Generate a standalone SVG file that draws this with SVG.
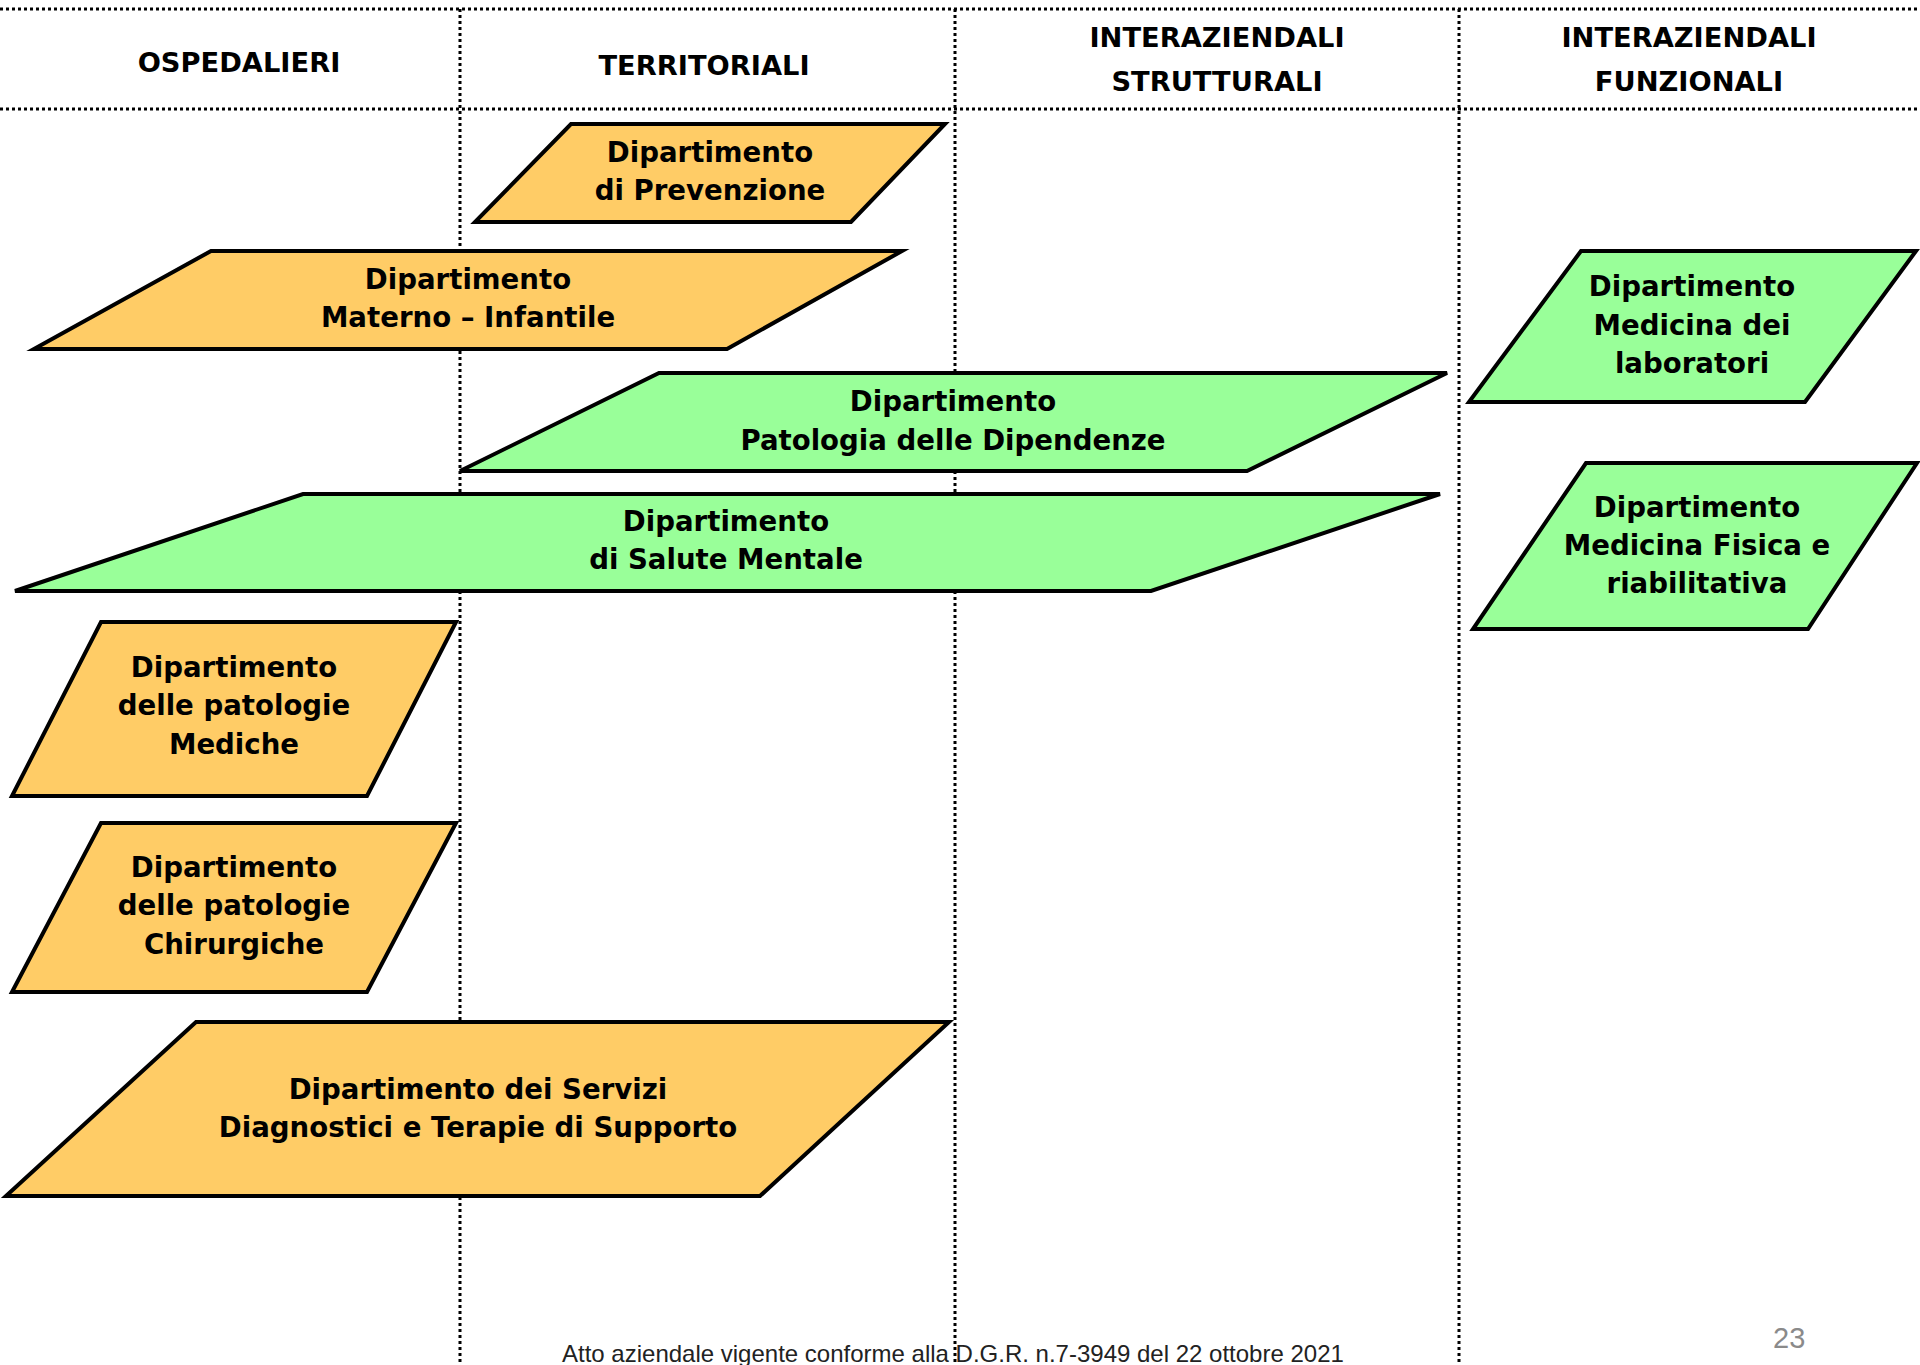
<svg xmlns="http://www.w3.org/2000/svg" width="1920" height="1365" viewBox="0 0 1920 1365">
<style>
.grid{stroke:#000;stroke-width:3;stroke-dasharray:3 3;fill:none}
.org{fill:#FFCC66;stroke:#000;stroke-width:4;stroke-linejoin:miter}
.grn{fill:#99FF99;stroke:#000;stroke-width:4;stroke-linejoin:miter}
.t{font-family:"DejaVu Sans","Open Sans",sans-serif;font-weight:bold;font-size:27.6px;fill:#000;text-anchor:middle}
.h{font-size:27.3px}
.foot{font-family:"Liberation Sans",Arial,sans-serif;font-size:24px;fill:#222}
.pg{font-family:"Liberation Sans",Arial,sans-serif;font-size:29px;fill:#8a8a8a}
</style>
<rect width="1920" height="1365" fill="#fff"/>
<g id="grid">
<line class="grid" x1="0" y1="9" x2="1920" y2="9"/>
<line class="grid" x1="0" y1="109" x2="1920" y2="109"/>
<line class="grid" x1="460" y1="9" x2="460" y2="1365"/>
<line class="grid" x1="955" y1="9" x2="955" y2="1365"/>
<line class="grid" x1="1459" y1="9" x2="1459" y2="1365"/>
</g>
<g id="headers">
<text class="t h" x="239" y="72">OSPEDALIERI</text>
<text class="t h" x="704" y="75">TERRITORIALI</text>
<text class="t h" x="1217" y="47">INTERAZIENDALI</text>
<text class="t h" x="1217" y="91">STRUTTURALI</text>
<text class="t h" x="1689" y="47">INTERAZIENDALI</text>
<text class="t h" x="1689" y="91">FUNZIONALI</text>
</g>
<g id="connectors"></g>
<g id="prevenzione">
<polygon class="org" points="571,124 945,124 851,222 475,222"/>
<text class="t" x="710" y="162">Dipartimento</text>
<text class="t" x="710" y="200">di Prevenzione</text>
</g>
<g id="materno">
<polygon class="org" points="211,251 902,251 727,349 34,349"/>
<text class="t" x="468" y="289">Dipartimento</text>
<text class="t" x="468" y="327">Materno – Infantile</text>
</g>
<g id="dipendenze">
<polygon class="grn" points="659,373 1447,373 1247,471 460,471"/>
<text class="t" x="953" y="411">Dipartimento</text>
<text class="t" x="953" y="450">Patologia delle Dipendenze</text>
</g>
<g id="salute-mentale">
<polygon class="grn" points="303,494 1440,494 1151,591 15,591"/>
<text class="t" x="726" y="531">Dipartimento</text>
<text class="t" x="726" y="569">di Salute Mentale</text>
</g>
<g id="mediche">
<polygon class="org" points="101,622 456,622 367,796 12,796"/>
<text class="t" x="234" y="677">Dipartimento</text>
<text class="t" x="234" y="715">delle patologie</text>
<text class="t" x="234" y="754">Mediche</text>
</g>
<g id="chirurgiche">
<polygon class="org" points="101,823 456,823 367,992 12,992"/>
<text class="t" x="234" y="877">Dipartimento</text>
<text class="t" x="234" y="915">delle patologie</text>
<text class="t" x="234" y="954">Chirurgiche</text>
</g>
<g id="servizi">
<polygon class="org" points="196,1022 949,1022 760,1196 6,1196"/>
<text class="t" x="478" y="1099">Dipartimento dei Servizi</text>
<text class="t" x="478" y="1137">Diagnostici e Terapie di Supporto</text>
</g>
<g id="laboratori">
<polygon class="grn" points="1581,251 1916,251 1805,402 1469,402"/>
<text class="t" x="1692" y="296">Dipartimento</text>
<text class="t" x="1692" y="335">Medicina dei</text>
<text class="t" x="1692" y="373">laboratori</text>
</g>
<g id="medicina-fisica">
<polygon class="grn" points="1586,463 1917,463 1808,629 1473,629"/>
<text class="t" x="1697" y="517">Dipartimento</text>
<text class="t" x="1697" y="555">Medicina Fisica e</text>
<text class="t" x="1697" y="593">riabilitativa</text>
</g>
<g id="footer">
<text class="foot" x="562" y="1362">Atto aziendale vigente conforme alla D.G.R. n.7-3949 del 22 ottobre 2021</text>
<text class="pg" x="1773" y="1348">23</text>
</g>
</svg>
